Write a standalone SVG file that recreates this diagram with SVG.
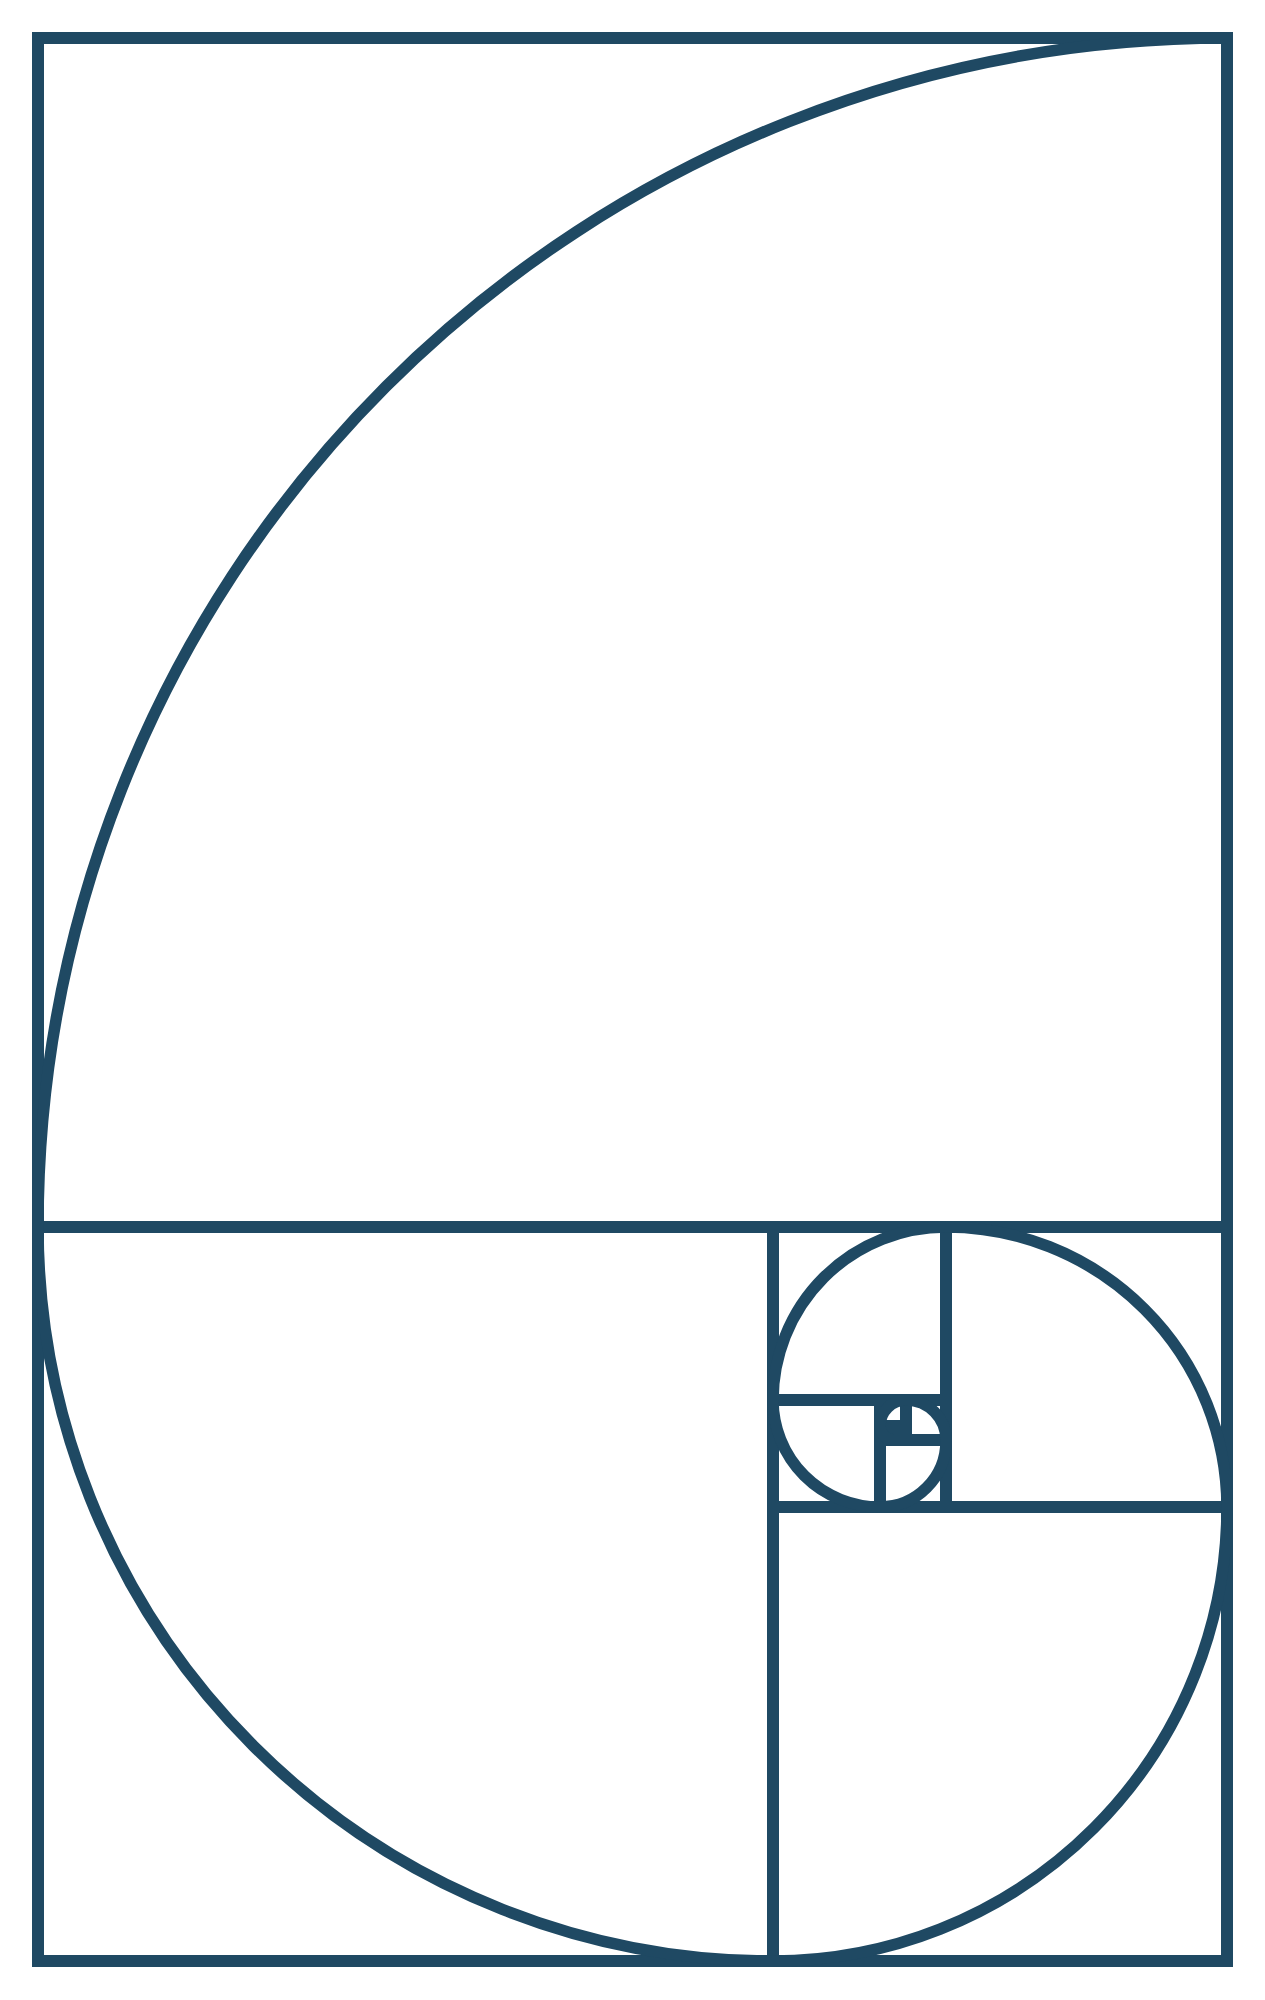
<svg xmlns="http://www.w3.org/2000/svg" width="1265" height="2000" viewBox="0 0 1265 2000">
<style>
.ln{fill:none;stroke:#1F4963;stroke-width:12;stroke-linecap:square}
.sp{fill:none;stroke:#1F4963;stroke-width:11.5}
</style>
<rect width="1265" height="2000" fill="#ffffff"/>
<g id="frame">
<rect class="ln" x="38" y="38" width="1189" height="1923"/>
</g>
<g id="divisions">
<line class="ln" x1="38" y1="1227" x2="1227" y2="1227"/>
<line class="ln" x1="773" y1="1227" x2="773" y2="1961"/>
<line class="ln" x1="773" y1="1507" x2="1227" y2="1507"/>
<line class="ln" x1="946" y1="1227" x2="946" y2="1507"/>
<line class="ln" x1="773" y1="1400" x2="946" y2="1400"/>
<line class="ln" x1="880" y1="1400" x2="880" y2="1507"/>
<line class="ln" x1="880" y1="1440" x2="946" y2="1440"/>
<line class="ln" x1="906" y1="1400" x2="906" y2="1440"/>
<line class="ln" x1="880" y1="1426" x2="906" y2="1426"/>
<line class="ln" x1="894" y1="1426" x2="894" y2="1440"/>
</g>
<g id="spiral">
<path class="sp" d="M1227,38 A1189,1189 0 0 0 38,1227 A735,735 0 0 0 773,1961 A454,454 0 0 0 1227,1507 A281,281 0 0 0 946,1227 A173,173 0 0 0 773,1400 A107,107 0 0 0 880,1507 A66,66 0 0 0 946,1441 A40,40 0 0 0 906,1400 A26,26 0 0 0 880,1426 A14,14 0 0 0 894,1440"/>
</g>
</svg>
